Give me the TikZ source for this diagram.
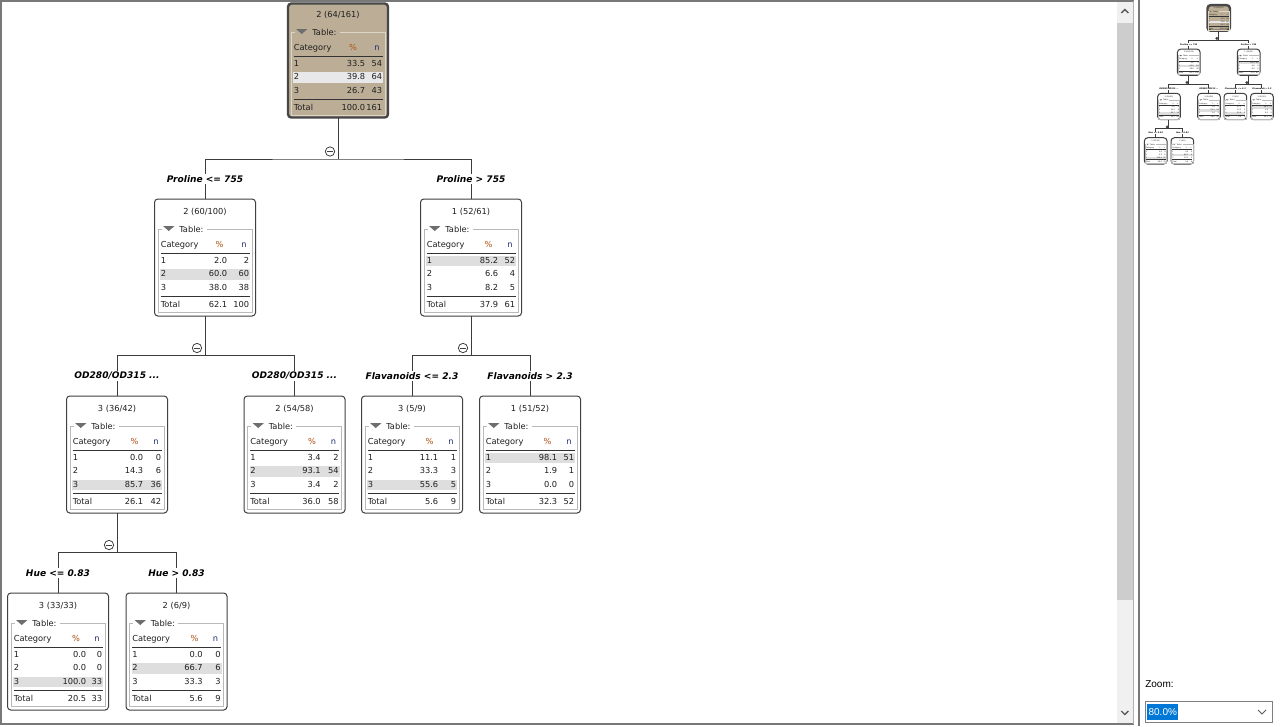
\documentclass[tikz,border=0pt]{standalone}
\usepackage{fontspec}
\setmainfont{DejaVu Sans}
\newfontfamily\uifont{Liberation Sans}
\usetikzlibrary{calc}
\definecolor{roottan}{RGB}{188,174,150}
\definecolor{hlgrey}{RGB}{222,222,222}
\definecolor{roothl}{RGB}{232,232,234}
\definecolor{framegrey}{RGB}{185,185,185}
\definecolor{rootframe}{RGB}{222,214,198}
\definecolor{pctcol}{RGB}{176,84,20}
\definecolor{ncol}{RGB}{30,40,110}
\definecolor{edgecol}{RGB}{60,60,60}
\definecolor{trigrey}{RGB}{110,110,110}
\definecolor{winblue}{RGB}{0,120,215}
\definecolor{trackgrey}{RGB}{240,240,240}
\definecolor{thumbgrey}{RGB}{205,205,205}
\definecolor{bordergrey}{RGB}{120,120,120}

\tikzset{
  plain box/.style={draw=black!75, line width=0.75pt, rounded corners=2.5pt, fill=white,
    minimum width=75.75pt, minimum height=87.75pt, inner sep=0pt, outer sep=0pt},
  root box/.style={plain box, draw=black!72, line width=1.8pt, fill=roottan,
    minimum width=75pt, minimum height=85.5pt},
  plain band/.style={fill=hlgrey},
  root band/.style={fill=roothl},
  plain frame/.style={draw=framegrey, line width=0.6pt},
  root frame/.style={draw=rootframe, line width=0.6pt},
  txt/.style={font=\fontsize{6.2}{7.5}\selectfont, inner sep=0pt, text height=5pt, text depth=1.3pt, text=black!88},
  rulel/.style={draw=black!80, line width=0.75pt},
  edge/.style={draw=edgecol, line width=0.75pt},
  lbl/.style={font=\fontsize{6.8}{8}\selectfont\bfseries\itshape, fill=white, inner xsep=1pt, inner ysep=1.2pt, text=black},
  collapse/.style={circle, draw=black!75, fill=white, line width=0.6pt, minimum size=7pt, inner sep=0pt,
    path picture={\draw[black!75, line width=0.6pt]
      ($(path picture bounding box.west)!0.22!(path picture bounding box.east)$) --
      ($(path picture bounding box.west)!0.78!(path picture bounding box.east)$);}},
  ui/.style={font=\uifont\fontsize{7.5}{9}\selectfont, inner sep=0pt},
}

% #1 name, #2 style, #3 left, #4 top, #5 title, #6 highlighted row, #7 % column right edge, #8 % header centre
\newcommand\dtnode[8]{%
  \def\dtx{#3}\def\dty{#4}\def\dtpr{#7}%
  \begin{scope}[shift={(#3,#4)}]
    \pgfmathsetmacro\dthc{48.5+13.5*#6}%
    \node[#2 box] (#1) at (50.5,58.5) {};
    \fill[#2 band] (5.5,{\dthc-5.25}) rectangle (95.5,{\dthc+5.25});
    \node[txt] (#1-title) at (50.5,13.5) {#5};
    \fill[trigrey] (8.5,27) -- (20,27) -- (14.25,32) -- cycle;
    \node[txt, anchor=west] (#1-table) at (24.5,31) {Table:};
    \draw[#2 frame] (7,30) -- (3.5,30) -- (3.5,113.5) -- (97.5,113.5) -- (97.5,30) -- (52,30);
    \node[txt, anchor=west] (#1-hcat) at (6,46) {Category};
    \node[txt, text=pctcol] (#1-hpct) at (#8,46) {\%};
    \node[txt, text=ncol] (#1-hn) at (89.5,46) {n};
    \draw[rulel] (6,54) -- (95,54);
    \draw[rulel] (6,97.5) -- (95,97.5);
    \node[txt, anchor=west] (#1-r1) at (6,62) {1};
    \node[txt, anchor=west] (#1-r2) at (6,75.5) {2};
    \node[txt, anchor=west] (#1-r3) at (6,89) {3};
    \node[txt, anchor=west] (#1-rt) at (6,106) {Total};
  \end{scope}}

\newcommand\dtrows[9]{%
  \begin{scope}[shift={(\dtx,\dty)}]
    \node[txt, anchor=east] (#1-p1) at (\dtpr,62) {#2};
    \node[txt, anchor=east] (#1-n1) at (95,62) {#3};
    \node[txt, anchor=east] (#1-p2) at (\dtpr,75.5) {#4};
    \node[txt, anchor=east] (#1-n2) at (95,75.5) {#5};
    \node[txt, anchor=east] (#1-p3) at (\dtpr,89) {#6};
    \node[txt, anchor=east] (#1-n3) at (95,89) {#7};
    \node[txt, anchor=east] (#1-pt) at (\dtpr,106) {#8};
    \node[txt, anchor=east] (#1-nt) at (95,106) {#9};
  \end{scope}}

\newcommand\drawtree{%
  \coordinate (j1) at (338,159);
  \coordinate (j2) at (205,355);
  \coordinate (j3) at (471,355);
  \coordinate (j4) at (117,552);
  \dtnode{root}{root}{287.5}{2}{2 (64/161)}{2}{78}{65.5}
  \dtrows{root}{33.5}{54}{39.8}{64}{26.7}{43}{100.0}{161}
  \dtnode{N1}{plain}{154.5}{199}{2 (60/100)}{2}{73}{65}
  \dtrows{N1}{2.0}{2}{60.0}{60}{38.0}{38}{62.1}{100}
  \dtnode{N2}{plain}{420.5}{199}{1 (52/61)}{1}{78}{68}
  \dtrows{N2}{85.2}{52}{6.6}{4}{8.2}{5}{37.9}{61}
  \dtnode{N3}{plain}{66.5}{396}{3 (36/42)}{3}{77}{68}
  \dtrows{N3}{0.0}{0}{14.3}{6}{85.7}{36}{26.1}{42}
  \dtnode{N4}{plain}{244}{396}{2 (54/58)}{2}{77}{68}
  \dtrows{N4}{3.4}{2}{93.1}{54}{3.4}{2}{36.0}{58}
  \dtnode{N5}{plain}{361.5}{396}{3 (5/9)}{3}{77}{68}
  \dtrows{N5}{11.1}{1}{33.3}{3}{55.6}{5}{5.6}{9}
  \dtnode{N6}{plain}{479.5}{396}{1 (51/52)}{1}{78}{68}
  \dtrows{N6}{98.1}{51}{1.9}{1}{0.0}{0}{32.3}{52}
  \dtnode{N7}{plain}{7.5}{593}{3 (33/33)}{3}{79}{68.5}
  \dtrows{N7}{0.0}{0}{0.0}{0}{100.0}{33}{20.5}{33}
  \dtnode{N8}{plain}{126}{593}{2 (6/9)}{2}{77}{68.5}
  \dtrows{N8}{0.0}{0}{66.7}{6}{33.3}{3}{5.6}{9}
  % connectors
  \draw[edge] (root.south) -- (root.south |- j1);
  \draw[edge] (N1.north) |- (j1) -| (N2.north);
  \draw[edge] (N1.south) -- (N1.south |- j2);
  \draw[edge] (N3.north) |- (j2) -| (N4.north);
  \draw[edge] (N2.south) -- (N2.south |- j3);
  \draw[edge] (N5.north) |- (j3) -| (N6.north);
  \draw[edge] (N3.south) -- (N3.south |- j4);
  \draw[edge] (N7.north) |- (j4) -| (N8.north);
  % split labels
  \node[lbl] (l1) at (205,179) {Proline <= 755};
  \node[lbl] (l2) at (471,179) {Proline > 755};
  \node[lbl] (l3) at (117,376) {OD280/OD315 ...};
  \node[lbl] (l4) at (294.5,376) {OD280/OD315 ...};
  \node[lbl] (l5) at (412,376) {Flavanoids <= 2.3};
  \node[lbl] (l6) at (530,376) {Flavanoids > 2.3};
  \node[lbl] (l7) at (58,573) {Hue <= 0.83};
  \node[lbl] (l8) at (176.5,573) {Hue > 0.83};
  % collapse toggles
  \node[collapse] (c1) at (330,151.5) {};
  \node[collapse] (c2) at (197,348) {};
  \node[collapse] (c3) at (463,348) {};
  \node[collapse] (c4) at (109,545) {};
}

\begin{document}
\begin{tikzpicture}[x=0.75pt, y=-0.75pt]
  \useasboundingbox (0,0) rectangle (1280,726);
  \fill[white] (0,0) rectangle (1280,726);
  % main tree
  \drawtree
  % scrollbar
  \fill[trackgrey] (1116.5,2) rectangle (1133,723);
  \fill[thumbgrey] (1117,23) rectangle (1132.5,600);
  \draw[black!65, line width=1pt] (1121.3,13) -- (1124.8,9.5) -- (1128.3,13);
  \draw[black!65, line width=1pt] (1121.3,711) -- (1124.8,714.5) -- (1128.3,711);
  % canvas border
  \draw[bordergrey, line width=1.5pt] (1133.5,1) -- (1,1) -- (1,724) -- (1133.5,724);
  \draw[black!30, line width=0.75pt] (1133.8,1) -- (1133.8,724);
  % side panel
  \draw[bordergrey, line width=1.2pt] (1139,0) -- (1139,726);
  \begin{scope}[shift={(1142.65,4.3)}, scale=0.225, transform shape, name prefix=th-]
    \drawtree
  \end{scope}
  \node[ui, anchor=west] (zoomlbl) at (1145,684.5) {Zoom:};
  \node[draw=black!50, line width=0.75pt, fill=white, minimum width=95.25pt, minimum height=15.75pt, inner sep=0pt] (combo) at (1209,712) {};
  \node[ui, anchor=west, fill=winblue, text=white, inner xsep=1pt, minimum height=12.5pt] (zoomval) at (1147,712) {80.0\%};
  \draw[black!65, line width=0.75pt] (1258,710) -- (1262,714) -- (1266,710);
\end{tikzpicture}
\end{document}
